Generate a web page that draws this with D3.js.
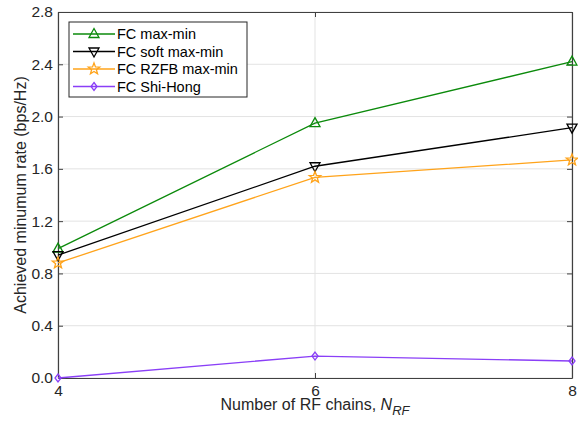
<!DOCTYPE html>
<html>
<head>
<meta charset="utf-8">
<script src="https://cdn.jsdelivr.net/npm/d3@7"></script>
<style>
  body { margin: 0; background: #fff; }
  svg { display: block; font-family: 'Liberation Sans', Arial, sans-serif; }
</style>
</head>
<body>
<div id="chart"></div>
<script>
// Data
const rfChains = [4, 6, 8]
const fcMaxMin = [0.99, 1.95, 2.42]
const fcSoftMaxMin = [0.94, 1.62, 1.915]
const fcRzfbMaxMin = [0.88, 1.535, 1.668]
const fcShiHong = [0.0, 0.168, 0.13]
const yTicks = [0, 0.4, 0.8, 1.2, 1.6, 2.0, 2.4, 2.8]

const series = [
  { name: 'FC max-min', values: fcMaxMin, color: '#0b8a0b', marker: 'triUp' },
  { name: 'FC soft max-min', values: fcSoftMaxMin, color: '#000000', marker: 'triDown' },
  { name: 'FC RZFB max-min', values: fcRzfbMaxMin, color: '#ffa31a', marker: 'star' },
  { name: 'FC Shi-Hong', values: fcShiHong, color: '#8a3ff7', marker: 'diamond' },
]

const width = 578
const height = 426
const margin = { top: 12, right: 6, bottom: 48, left: 58 }
const innerWidth = width - margin.left - margin.right
const innerHeight = height - margin.top - margin.bottom

const svg = d3.select('#chart').append('svg')
  .attr('width', width)
  .attr('height', height)

const g = svg.append('g')
  .attr('transform', `translate(${margin.left},${margin.top})`)

const x = d3.scaleLinear().domain([4, 8]).range([0, innerWidth])
const y = d3.scaleLinear().domain([0, 2.8]).range([innerHeight, 0])

// Grid lines
g.append('g').selectAll('line').data(yTicks).join('line')
  .attr('x1', 0).attr('x2', innerWidth)
  .attr('y1', d => y(d)).attr('y2', d => y(d))
  .attr('stroke', '#e3e3e3').attr('stroke-width', 1)
g.append('g').selectAll('line').data(rfChains).join('line')
  .attr('x1', d => x(d)).attr('x2', d => x(d))
  .attr('y1', 0).attr('y2', innerHeight)
  .attr('stroke', '#e3e3e3').attr('stroke-width', 1)

// Axes (MATLAB style: ticks inside, box)
const axisColor = '#404040'
const xAxis = g.append('g')
  .attr('transform', `translate(0,${innerHeight})`)
  .call(d3.axisBottom(x).tickValues(rfChains).tickFormat(d3.format('d')).tickSizeInner(-5).tickSizeOuter(0).tickPadding(7))
const yAxis = g.append('g')
  .call(d3.axisLeft(y).tickValues(yTicks).tickFormat(d3.format('.1f')).tickSizeInner(-5).tickSizeOuter(0).tickPadding(5))
const xAxisTop = g.append('g')
  .call(d3.axisTop(x).tickValues(rfChains).tickFormat('').tickSizeInner(-5).tickSizeOuter(0))
const yAxisRight = g.append('g')
  .attr('transform', `translate(${innerWidth},0)`)
  .call(d3.axisRight(y).tickValues(yTicks).tickFormat('').tickSizeInner(-5).tickSizeOuter(0))

;[xAxis, yAxis, xAxisTop, yAxisRight].forEach(a => {
  a.select('.domain').attr('stroke', axisColor).attr('stroke-width', 1.2)
  a.selectAll('.tick line').attr('stroke', axisColor)
  a.selectAll('.tick text').attr('fill', '#262626').style('font-size', '15.5px')
})

// Marker shapes
function markerPath(type) {
  if (type === 'triUp') return 'M0,-5.5L5,3.5L-5,3.5Z'
  if (type === 'triDown') return 'M0,5.5L5,-3.5L-5,-3.5Z'
  if (type === 'diamond') return 'M0,-4L3,0L0,4L-3,0Z'
  // five-point star
  const pts = []
  for (let i = 0; i < 10; i++) {
    const r = i % 2 === 0 ? 6 : 2.5
    const a = -Math.PI / 2 + i * Math.PI / 5
    pts.push([r * Math.cos(a), r * Math.sin(a)])
  }
  return 'M' + pts.map(p => p.join(',')).join('L') + 'Z'
}

const line = d3.line()
  .x((d, i) => x(rfChains[i]))
  .y(d => y(d))

series.forEach(s => {
  g.append('path')
    .datum(s.values)
    .attr('fill', 'none')
    .attr('stroke', s.color)
    .attr('stroke-width', 1.3)
    .attr('d', line)
  g.append('g').selectAll('path').data(s.values).join('path')
    .attr('transform', (d, i) => `translate(${x(rfChains[i])},${y(d)})`)
    .attr('d', markerPath(s.marker))
    .attr('fill', 'none')
    .attr('stroke', s.color)
    .attr('stroke-width', 1.3)
})

// Legend
const legend = g.append('g').attr('transform', 'translate(11,10)')
legend.append('rect')
  .attr('width', 178).attr('height', 75)
  .attr('fill', '#fff').attr('stroke', '#262626').attr('stroke-width', 1)
series.forEach((s, i) => {
  const row = legend.append('g').attr('transform', `translate(0,${12 + i * 17.5})`)
  row.append('line')
    .attr('x1', 4).attr('x2', 46)
    .attr('stroke', s.color).attr('stroke-width', 1.3)
  row.append('path')
    .attr('transform', 'translate(25,0)')
    .attr('d', markerPath(s.marker))
    .attr('fill', 'none').attr('stroke', s.color).attr('stroke-width', 1.3)
  row.append('text')
    .attr('x', 48).attr('dy', '0.35em')
    .style('font-size', '14.5px').attr('fill', '#000')
    .text(s.name)
})

// Axis labels
const xLabel = svg.append('text')
  .attr('x', margin.left + innerWidth / 2)
  .attr('y', 410)
  .attr('text-anchor', 'middle')
  .attr('fill', '#262626')
  .style('font-size', '16px')
xLabel.append('tspan').text('Number of RF chains, ')
xLabel.append('tspan').attr('font-style', 'italic').text('N')
xLabel.append('tspan').attr('font-style', 'italic').attr('dy', 5).style('font-size', '13px').text('RF')

svg.append('text')
  .attr('transform', `translate(26,${margin.top + innerHeight / 2}) rotate(-90)`)
  .attr('text-anchor', 'middle')
  .attr('fill', '#262626')
  .style('font-size', '16px')
  .text('Achieved minumum rate (bps/Hz)')
</script>
</body>
</html>
